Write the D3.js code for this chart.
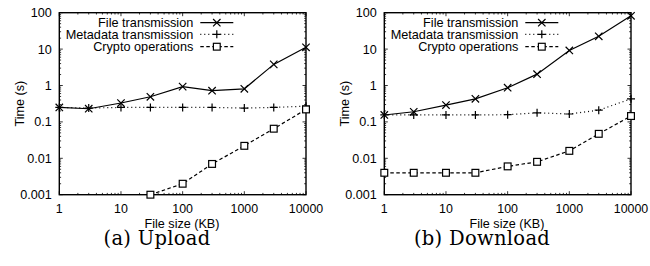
<!DOCTYPE html>
<html>
<head>
<meta charset="utf-8">
<script src="https://cdn.jsdelivr.net/npm/d3@7"></script>
<style>
  body { margin: 0; background: #fff; }
  svg { display: block; }
</style>
</head>
<body>
<div id="chart"></div>
<script>
// file sizes (KB)
const sizes = [1, 3, 10, 30, 100, 300, 1000, 3000, 10000];
const xTicks = [1, 10, 100, 1000, 10000];
const yTicks = [0.001, 0.01, 0.1, 1, 10, 100];
const yTickLabels = ["0.001", "0.01", "0.1", "1", "10", "100"];
const seriesNames = ["File transmission", "Metadata transmission", "Crypto operations"];

// upload times (s)
const upFile = [0.25, 0.23, 0.33, 0.49, 0.93, 0.72, 0.81, 3.8, 11.2];
const upMeta = [0.25, 0.24, 0.25, 0.25, 0.25, 0.25, 0.24, 0.25, 0.27];
const upCrypto = [null, null, null, 0.001, 0.002, 0.007, 0.022, 0.065, 0.22];

// download times (s)
const downFile = [0.155, 0.19, 0.29, 0.43, 0.87, 2.05, 9.2, 22.5, 82];
const downMeta = [0.155, 0.155, 0.155, 0.155, 0.158, 0.178, 0.165, 0.21, 0.43];
const downCrypto = [0.004, 0.004, 0.004, 0.004, 0.006, 0.008, 0.016, 0.047, 0.145];

const W = 650, H = 266;
const svg = d3.select("#chart").append("svg").attr("width", W).attr("height", H);

const styles = [
  { dash: null, marker: "x" },
  { dash: "1,3", marker: "+" },
  { dash: "3.5,2.5", marker: "sq" }
];

function drawMarker(g, type, cx, cy) {
  if (type === "x") {
    const s = 3.7;
    g.append("path")
      .attr("d", `M${cx - s},${cy - s}L${cx + s},${cy + s}M${cx - s},${cy + s}L${cx + s},${cy - s}`)
      .attr("stroke", "#000").attr("stroke-width", 1.2);
  } else if (type === "+") {
    const s = 4;
    g.append("path")
      .attr("d", `M${cx - s},${cy}L${cx + s},${cy}M${cx},${cy - s}L${cx},${cy + s}`)
      .attr("stroke", "#000").attr("stroke-width", 1.2);
  } else {
    const s = 3.4;
    g.append("rect")
      .attr("x", cx - s).attr("y", cy - s).attr("width", 2 * s).attr("height", 2 * s)
      .attr("fill", "#fff").attr("stroke", "#000").attr("stroke-width", 1.2);
  }
}

function drawPanel(offsetX, data, caption) {
  const left = offsetX + 59.3, right = offsetX + 306, top = 12.7, bottom = 194.7;
  const x = d3.scaleLog().domain([1, 10000]).range([left, right]);
  const y = d3.scaleLog().domain([0.001, 100]).range([bottom, top]);
  const g = svg.append("g");

  // minor and major ticks, mirrored on all sides
  const minorX = [], minorY = [];
  for (let d = 1; d < 10000; d *= 10) for (let k = 2; k < 10; k++) minorX.push(d * k);
  for (let d = 0.001; d < 99; d *= 10) for (let k = 2; k < 10; k++) minorY.push(d * k);

  const tickPath = [];
  xTicks.forEach(v => {
    const px = x(v);
    tickPath.push(`M${px},${bottom}v-3.5`, `M${px},${top}v3.5`);
  });
  minorX.forEach(v => {
    const px = x(v);
    tickPath.push(`M${px},${bottom}v-1.8`, `M${px},${top}v1.8`);
  });
  yTicks.forEach(v => {
    const py = y(v);
    tickPath.push(`M${left},${py}h3.5`, `M${right},${py}h-3.5`);
  });
  minorY.forEach(v => {
    const py = y(v);
    tickPath.push(`M${left},${py}h1.8`, `M${right},${py}h-1.8`);
  });
  g.append("path").attr("d", tickPath.join("")).attr("stroke", "#000").attr("stroke-width", 0.8).attr("fill", "none");

  g.append("rect")
    .attr("x", left).attr("y", top).attr("width", right - left).attr("height", bottom - top)
    .attr("fill", "none").attr("stroke", "#000").attr("stroke-width", 1.4);

  const font = "Liberation Sans, Arial, sans-serif";
  g.selectAll(".xt").data(xTicks).enter().append("text")
    .attr("x", d => x(d)).attr("y", 213.3)
    .attr("text-anchor", "middle").attr("font-family", font).attr("font-size", 12.4)
    .text(d => d);
  g.selectAll(".yt").data(yTicks).enter().append("text")
    .attr("x", left - 7.6).attr("y", d => y(d) + 4.5)
    .attr("text-anchor", "end").attr("font-family", font).attr("font-size", 12.6)
    .text((d, i) => yTickLabels[i]);

  g.append("text")
    .attr("x", offsetX + 182).attr("y", 227.5)
    .attr("text-anchor", "middle").attr("font-family", font).attr("font-size", 12.6)
    .text("File size (KB)");
  g.append("text")
    .attr("transform", `translate(${offsetX + 23.5},103.7) rotate(-90)`)
    .attr("text-anchor", "middle").attr("font-family", font).attr("font-size", 12.6)
    .text("Time (s)");

  g.append("text")
    .attr("x", offsetX + 157).attr("y", 245)
    .attr("text-anchor", "middle").attr("font-family", "DejaVu Serif, serif").attr("font-size", 19.5)
    .attr("letter-spacing", 0.3)
    .text(caption);

  // series
  const line = d3.line()
    .defined(d => d[1] != null)
    .x(d => x(d[0])).y(d => y(d[1]));

  data.forEach((vals, i) => {
    const pts = sizes.map((s, j) => [s, vals[j]]);
    g.append("path")
      .attr("d", line(pts))
      .attr("fill", "none").attr("stroke", "#000").attr("stroke-width", 1.2)
      .attr("stroke-dasharray", styles[i].dash);
  });
  data.forEach((vals, i) => {
    sizes.forEach((s, j) => {
      if (vals[j] != null) drawMarker(g, styles[i].marker, x(s), y(vals[j]));
    });
  });

  // legend
  const legY = [22.7, 34.3, 46.7];
  seriesNames.forEach((name, i) => {
    g.append("text")
      .attr("x", left + 134).attr("y", legY[i] + 4.5)
      .attr("text-anchor", "end").attr("font-family", font).attr("font-size", 12.7)
      .text(name);
    g.append("line")
      .attr("x1", left + 141).attr("x2", left + 174)
      .attr("y1", legY[i]).attr("y2", legY[i])
      .attr("stroke", "#000").attr("stroke-width", 1.2)
      .attr("stroke-dasharray", styles[i].dash);
    drawMarker(g, styles[i].marker, left + 157.5, legY[i]);
  });
}

drawPanel(0, [upFile, upMeta, upCrypto], "(a) Upload");
drawPanel(325, [downFile, downMeta, downCrypto], "(b) Download");
</script>
</body>
</html>
